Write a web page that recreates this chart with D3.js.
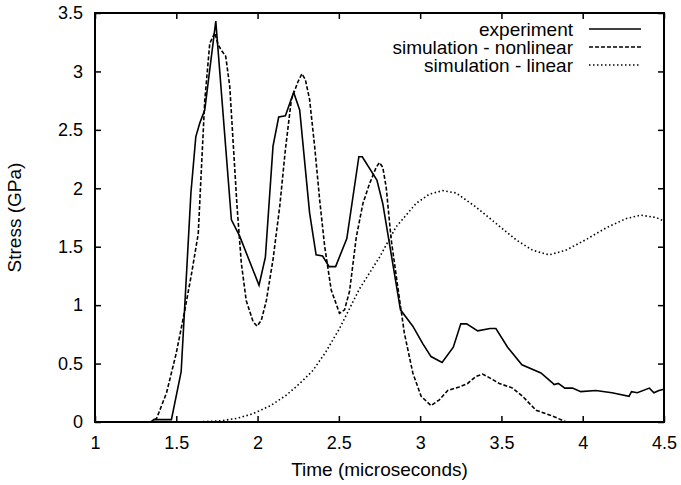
<!DOCTYPE html>
<html>
<head>
<meta charset="utf-8">
<script src="https://cdn.jsdelivr.net/npm/d3@7"></script>
<style>
  body { margin: 0; background: #fff; }
  svg text { font-family: "Liberation Sans", Arial, sans-serif; fill: #000; }
</style>
</head>
<body>
<div id="chart"></div>
<script>
// experiment (solid)
const expTime = [1.0, 1.35, 1.36, 1.47, 1.53, 1.59, 1.62, 1.645, 1.675, 1.743, 1.839, 1.89, 2.009, 2.048, 2.095, 2.13, 2.171, 2.222, 2.259, 2.32, 2.36, 2.40, 2.44, 2.48, 2.549, 2.623, 2.644, 2.734, 2.77, 2.879, 2.955, 3.016, 3.067, 3.135, 3.204, 3.25, 3.286, 3.354, 3.43, 3.466, 3.538, 3.626, 3.743, 3.81, 3.824, 3.85, 3.89, 3.937, 3.988, 4.08, 4.18, 4.285, 4.30, 4.336, 4.41, 4.438, 4.469, 4.5];
const expStress = [0, 0, 0.02, 0.02, 0.43, 1.96, 2.44, 2.56, 2.67, 3.43, 1.73, 1.59, 1.17, 1.41, 2.36, 2.61, 2.62, 2.82, 2.67, 1.79, 1.43, 1.42, 1.33, 1.33, 1.57, 2.27, 2.27, 2.07, 1.87, 0.96, 0.82, 0.67, 0.56, 0.51, 0.64, 0.84, 0.84, 0.78, 0.80, 0.80, 0.64, 0.49, 0.42, 0.34, 0.32, 0.33, 0.29, 0.29, 0.26, 0.27, 0.25, 0.22, 0.26, 0.25, 0.29, 0.25, 0.27, 0.28];

// simulation - nonlinear (dashed)
const nonlinTime = [1.0, 1.34, 1.379, 1.44, 1.50, 1.553, 1.594, 1.635, 1.655, 1.675, 1.706, 1.737, 1.757, 1.778, 1.804, 1.829, 1.849, 1.874, 1.90, 1.93, 1.972, 1.997, 2.023, 2.054, 2.095, 2.136, 2.171, 2.208, 2.248, 2.273, 2.294, 2.32, 2.351, 2.382, 2.413, 2.453, 2.504, 2.535, 2.566, 2.607, 2.648, 2.689, 2.73, 2.75, 2.77, 2.791, 2.822, 2.862, 2.903, 2.955, 3.006, 3.067, 3.118, 3.17, 3.24, 3.292, 3.343, 3.384, 3.425, 3.487, 3.569, 3.63, 3.713, 3.815, 3.9];
const nonlinStress = [0, 0, 0.03, 0.25, 0.59, 0.96, 1.27, 1.61, 2.18, 2.75, 3.24, 3.33, 3.23, 3.18, 3.13, 2.87, 2.41, 1.84, 1.36, 1.04, 0.86, 0.82, 0.87, 1.04, 1.39, 1.84, 2.33, 2.76, 2.91, 2.98, 2.93, 2.76, 2.36, 1.90, 1.50, 1.13, 0.93, 0.96, 1.12, 1.58, 1.87, 2.04, 2.18, 2.22, 2.18, 2.01, 1.56, 1.16, 0.76, 0.42, 0.22, 0.14, 0.19, 0.27, 0.30, 0.33, 0.39, 0.41, 0.38, 0.33, 0.29, 0.22, 0.10, 0.05, 0];

// simulation - linear (dotted)
const linTime = [1.0, 1.5, 1.65, 1.77, 1.87, 1.97, 2.08, 2.177, 2.26, 2.34, 2.42, 2.504, 2.627, 2.75, 2.852, 2.975, 3.057, 3.139, 3.221, 3.343, 3.466, 3.589, 3.691, 3.794, 3.896, 4.019, 4.142, 4.265, 4.357, 4.45, 4.5];
const linStress = [0, 0, 0.002, 0.01, 0.03, 0.07, 0.14, 0.23, 0.33, 0.44, 0.60, 0.80, 1.14, 1.41, 1.67, 1.87, 1.95, 1.98, 1.96, 1.84, 1.70, 1.56, 1.47, 1.43, 1.47, 1.56, 1.66, 1.74, 1.77, 1.75, 1.72];

const xTicks = [1, 1.5, 2, 2.5, 3, 3.5, 4, 4.5];
const yTicks = [0, 0.5, 1, 1.5, 2, 2.5, 3, 3.5];

const series = [
  { name: 'experiment', t: expTime, v: expStress, dash: null },
  { name: 'simulation - nonlinear', t: nonlinTime, v: nonlinStress, dash: '4,2' },
  { name: 'simulation - linear', t: linTime, v: linStress, dash: '1.5,2.5' }
];

const width = 681, height = 485;
const plotLeft = 95, plotRight = 664, plotTop = 13, plotBottom = 422;

const svg = d3.select('#chart').append('svg')
  .attr('width', width)
  .attr('height', height);

svg.append('rect').attr('width', width).attr('height', height).attr('fill', '#fff');

const x = d3.scaleLinear().domain([1, 4.5]).range([plotLeft, plotRight]);
const y = d3.scaleLinear().domain([0, 3.5]).range([plotBottom, plotTop]);

// axes, ticks pointing inward (mirrored on top and right)
const fmt = d => String(d);
svg.append('g')
  .attr('transform', `translate(0,${plotBottom})`)
  .call(d3.axisBottom(x).tickValues(xTicks).tickFormat(fmt).tickSizeInner(-6).tickSizeOuter(0).tickPadding(14));
svg.append('g')
  .attr('transform', `translate(0,${plotTop})`)
  .call(d3.axisTop(x).tickValues(xTicks).tickFormat('').tickSizeInner(-6).tickSizeOuter(0));
svg.append('g')
  .attr('transform', `translate(${plotLeft},0)`)
  .call(d3.axisLeft(y).tickValues(yTicks).tickFormat(fmt).tickSizeInner(-6).tickSizeOuter(0).tickPadding(12));
svg.append('g')
  .attr('transform', `translate(${plotRight},0)`)
  .call(d3.axisRight(y).tickValues(yTicks).tickFormat('').tickSizeInner(-6).tickSizeOuter(0));

svg.selectAll('.domain').remove();
svg.selectAll('.tick line').attr('stroke', '#000').attr('stroke-width', 1.5);
svg.selectAll('.tick text').attr('font-size', 18).attr('font-family', '"Liberation Sans", Arial, sans-serif');

// curves
const line = d3.line().x(d => x(d[0])).y(d => y(d[1]));
series.forEach(s => {
  svg.append('path')
    .datum(s.t.map((t, i) => [t, s.v[i]]))
    .attr('fill', 'none')
    .attr('stroke', '#000')
    .attr('stroke-width', 1.6)
    .attr('stroke-dasharray', s.dash)
    .attr('d', line);
});

// frame
svg.append('rect')
  .attr('x', plotLeft).attr('y', plotTop)
  .attr('width', plotRight - plotLeft).attr('height', plotBottom - plotTop)
  .attr('fill', 'none').attr('stroke', '#000').attr('stroke-width', 2);

// legend
const legend = svg.append('g');
series.forEach((s, i) => {
  const ly = 29 + i * 18;
  legend.append('text')
    .attr('x', 573).attr('y', ly)
    .attr('dy', '0.35em')
    .attr('text-anchor', 'end')
    .attr('font-size', 19)
    .text(s.name);
  legend.append('line')
    .attr('x1', 589).attr('x2', 641)
    .attr('y1', ly).attr('y2', ly)
    .attr('stroke', '#000').attr('stroke-width', 1.6)
    .attr('stroke-dasharray', s.dash);
});

// axis titles
svg.append('text')
  .attr('x', (plotLeft + plotRight) / 2).attr('y', 476)
  .attr('text-anchor', 'middle')
  .attr('font-size', 19)
  .text('Time (microseconds)');
svg.append('text')
  .attr('transform', `translate(21,${(plotTop + plotBottom) / 2}) rotate(-90)`)
  .attr('text-anchor', 'middle')
  .attr('font-size', 19)
  .text('Stress (GPa)');
</script>
</body>
</html>
